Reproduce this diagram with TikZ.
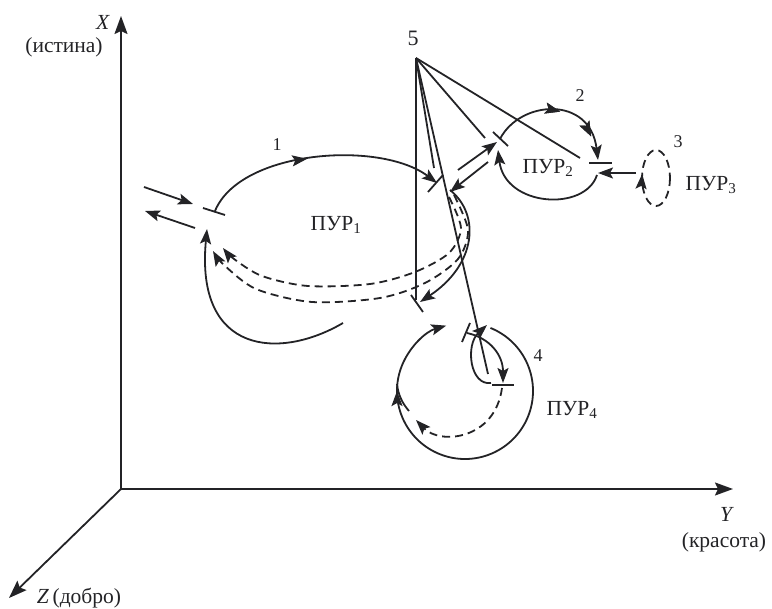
\documentclass[tikz,border=0pt]{standalone}
\usepackage{fontspec}
\setmainfont{Liberation Serif}
\usetikzlibrary{arrows.meta,decorations.markings}
\definecolor{ink}{RGB}{35,35,38}
\begin{document}
\begin{tikzpicture}[x=1pt,y=-1pt,line width=1.8pt,draw=ink,
  tip/.style={-{Stealth[length=15pt,width=11pt,inset=3pt]}},
  axtip/.style={-{Stealth[length=18pt,width=13pt,inset=3pt]}},
  midarrow/.style={postaction={decorate},decoration={markings,
      mark=at position #1 with {\arrow{Stealth[length=15pt,width=11pt,inset=3pt]}}}},
  dsh/.style={dash pattern=on 8pt off 5pt},
  lbl/.style={font=\fontsize{21.5}{24}\selectfont,inner sep=0pt,text=ink},
  num/.style={font=\fontsize{18}{20}\selectfont,inner sep=0pt,text=ink}]
\useasboundingbox (0,0) rectangle (772,609);
% axes
\coordinate (O) at (121,489);
\coordinate (Xe) at (121,16);
\coordinate (Ye) at (733,489);
\coordinate (Ze) at (9,598);
\draw[axtip] (O) -- (Xe);
\draw[axtip] (O) -- (Ye);
\draw[axtip] (O) -- (Ze);
\node[lbl] (xl) at (103,22) {\textit{X}};
\node[lbl] (xn) at (64,47) {(истина)};
\node[lbl] (yl) at (727,514) {\textit{Y}};
\node[lbl] (yn) at (724,542) {(красота)};
\node[lbl,anchor=west] (zl) at (36,598) {\textit{Z}\,(добро)};
% labels
\node[num] (n1) at (277,145) {1};
\node[num] (n2) at (580,96) {2};
\node[num] (n3) at (678,142) {3};
\node[num] (n4) at (538,356) {4};
\node[num,font=\fontsize{22}{24}\selectfont] (n5) at (413,38) {5};
\node[lbl] (p1) at (336,225) {ПУР\textsubscript{1}};
\node[lbl] (p2) at (548,168) {ПУР\textsubscript{2}};
\node[lbl] (p3) at (711,185) {ПУР\textsubscript{3}};
\node[lbl] (p4) at (572,410) {ПУР\textsubscript{4}};
% point 5 and rays
\coordinate (F) at (416,58);
\coordinate (Fv) at (416,300);
\coordinate (Fb) at (434,168);
\coordinate (Fc) at (488,374);
\coordinate (Fd) at (485,138);
\coordinate (Fe) at (580,158);
\draw (F) -- (Fv);
\draw (F) -- (Fb);
\draw (F) -- (Fc);
\draw (F) -- (Fd);
\draw (F) -- (Fe);
% PUR1
\coordinate (tA) at (203,208); \coordinate (tB) at (225,215);
\draw (tA) -- (tB);
\coordinate (inA) at (144,187); \coordinate (inB) at (193,204);
\draw[tip] (inA) -- (inB);
\coordinate (outA) at (195,228); \coordinate (outB) at (145,211);
\draw[tip] (outA) -- (outB);
\coordinate (s1) at (215,211); \coordinate (e1) at (437,183);
\draw[tip,midarrow=0.45] (s1) .. controls (240,150) and (380,140) .. (e1);
\coordinate (tC) at (428,192); \coordinate (tD) at (443,175);
\draw (tC) -- (tD);
\coordinate (s2) at (450,190); \coordinate (e2) at (420,302);
\draw[tip] (s2) .. controls (481,215) and (476,265) .. (e2);
\coordinate (tE) at (411,295); \coordinate (tF) at (423,312);
\draw (tE) -- (tF);
\draw[dsh,tip] plot[smooth] coordinates {(449,197) (461,228) (449,253) (415,272) (370,284) (308,286) (262,276) (234,259) (223,248)};
\draw[dsh,tip] plot[smooth] coordinates {(454,195) (468,230) (458,259) (425,283) (380,298) (312,302) (256,289) (224,265) (213,251)};
\coordinate (s3) at (343,323); \coordinate (e3) at (207,229);
\draw[tip] (s3) .. controls (280,360) and (195,355) .. (e3);
% PUR2
\coordinate (tG) at (493,132); \coordinate (tH) at (508,146);
\draw (tG) -- (tH);
\coordinate (dA) at (458,170); \coordinate (dB) at (497,142);
\draw[tip] (dA) -- (dB);
\coordinate (dC) at (488,162); \coordinate (dD) at (450,192);
\draw[tip] (dC) -- (dD);
\coordinate (s4) at (500,139); \coordinate (e4) at (598,160);
\draw[tip,midarrow=0.52,midarrow=0.82] (s4) .. controls (520,100) and (590,95) .. (e4);
\coordinate (tI) at (589,163); \coordinate (tJ) at (612,163);
\draw (tI) -- (tJ);
\coordinate (s5) at (597,175); \coordinate (e5) at (498,150);
\draw[tip] (s5) .. controls (585,212) and (505,207) .. (e5);
% PUR3
\coordinate (s6) at (636,173); \coordinate (e6) at (598,173);
\draw[tip] (s6) -- (e6);
\coordinate (c3) at (656,178);
\draw[dsh,midarrow=0.53] (c3) ellipse [x radius=14, y radius=28];
% PUR4
\coordinate (c4) at (465,391);
\draw[midarrow=0.77,tip] (c4) ++(-68:68) arc[start angle=-68,end angle=254,radius=68];
\coordinate (s7) at (409,411); \coordinate (e7) at (397,384);
\draw (s7) .. controls (402,403) and (398,394) .. (e7);
\coordinate (s8) at (502,388); \coordinate (e8) at (416,420);
\draw[dsh,tip] (s8) .. controls (495,440) and (440,445) .. (e8);
\coordinate (tK) at (462,342); \coordinate (tL) at (470,323);
\draw (tK) -- (tL);
\coordinate (s9) at (467,333); \coordinate (e9) at (503,383);
\draw[tip] (s9) .. controls (490,338) and (503,355) .. (e9);
\coordinate (tM) at (492,385); \coordinate (tN) at (514,385);
\draw (tM) -- (tN);
\coordinate (s10) at (491,383); \coordinate (e10) at (487,325);
\draw[tip] (s10) .. controls (470,386) and (465,345) .. (e10);
\end{tikzpicture}
\end{document}
